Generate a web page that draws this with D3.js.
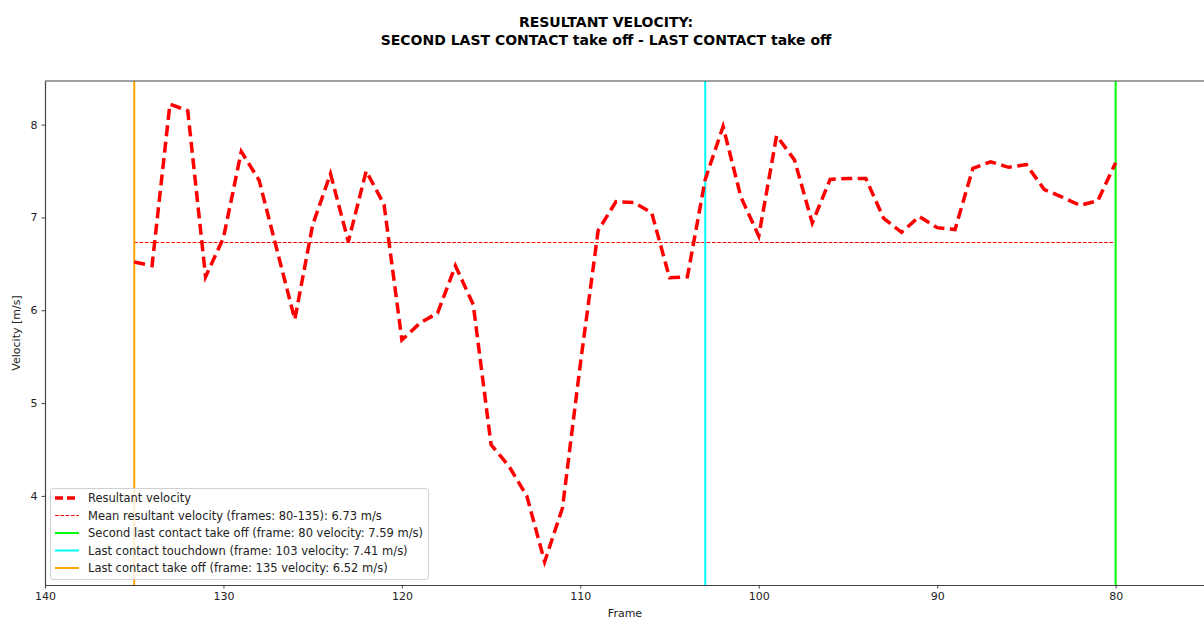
<!DOCTYPE html>
<html>
<head>
<meta charset="utf-8">
<script src="https://cdn.jsdelivr.net/npm/d3@7"></script>
<style>
  html, body { margin: 0; padding: 0; background: #fff; }
  svg { display: block; font-family: "DejaVu Sans", sans-serif; }
</style>
</head>
<body>
<svg id="chart" width="1204" height="619"></svg>
<script>
// Frames (descending) and resultant velocity per frame [m/s]
const frames = [135,134,133,132,131,130,129,128,127,126,125,124,123,122,121,120,119,118,117,116,115,114,113,112,111,110,109,108,107,106,105,104,103,102,101,100,99,98,97,96,95,94,93,92,91,90,89,88,87,86,85,84,83,82,81,80];
const velocity = [6.52,6.48,8.22,8.15,6.36,6.78,7.71,7.40,6.65,5.90,6.92,7.47,6.74,7.50,7.14,5.68,5.86,5.97,6.48,6.06,4.55,4.32,4.00,3.29,3.87,5.42,6.86,7.17,7.16,7.05,6.35,6.36,7.41,7.98,7.22,6.80,7.88,7.62,6.94,7.41,7.42,7.42,6.99,6.84,7.01,6.89,6.87,7.53,7.60,7.54,7.57,7.30,7.22,7.13,7.18,7.59];

const meanVelocity = 6.73;
const meanRange = [80, 135];

// Event markers: frame, label, colour
const events = [
  { frame: 80,  label: "Second last contact take off (frame: 80 velocity: 7.59 m/s)", color: "#00ff00" },
  { frame: 103, label: "Last contact touchdown (frame: 103 velocity: 7.41 m/s)", color: "#00ffff" },
  { frame: 135, label: "Last contact take off (frame: 135 velocity: 6.52 m/s)", color: "#ffa500" }
];

const xTicks = [140, 130, 120, 110, 100, 90, 80];
const yTicks = [4, 5, 6, 7, 8];
const titleLines = ["RESULTANT VELOCITY:", "SECOND LAST CONTACT take off - LAST CONTACT take off"];

const svg = d3.select("#chart");
const m = { left: 45, top: 81, right: 1212, bottom: 585 };

const x = d3.scaleLinear().domain([140, 74.6]).range([m.left, m.right]);
const y = d3.scaleLinear().domain([3.04, 8.47]).range([m.bottom, m.top]);

svg.append("defs").append("clipPath").attr("id", "plotclip")
  .append("rect").attr("x", m.left).attr("y", m.top)
  .attr("width", m.right - m.left).attr("height", m.bottom - m.top);

const plot = svg.append("g").attr("clip-path", "url(#plotclip)");

// Mean line
plot.append("line")
  .attr("x1", x(meanRange[1])).attr("x2", x(meanRange[0]))
  .attr("y1", y(meanVelocity)).attr("y2", y(meanVelocity))
  .attr("stroke", "#ff0000").attr("stroke-width", 1)
  .attr("stroke-dasharray", "3.7,1.6");

// Event vertical lines
events.forEach(e => {
  plot.append("line")
    .attr("x1", x(e.frame)).attr("x2", x(e.frame))
    .attr("y1", m.top).attr("y2", m.bottom)
    .attr("stroke", e.color).attr("stroke-width", 2);
});

// Velocity curve
const line = d3.line().x((d, i) => x(frames[i])).y(d => y(d));
plot.append("path")
  .datum(velocity)
  .attr("d", line)
  .attr("fill", "none")
  .attr("stroke", "#ff0000")
  .attr("stroke-width", 3.5)
  .attr("stroke-dasharray", "11,5.5");

// Axes
const xAxis = svg.append("g").attr("transform", `translate(0,${m.bottom})`)
  .call(d3.axisBottom(x).tickValues(xTicks).tickSize(3.5).tickSizeOuter(0).tickPadding(4).tickFormat(d3.format("d")));
const yAxis = svg.append("g").attr("transform", `translate(${m.left},0)`)
  .call(d3.axisLeft(y).tickValues(yTicks).tickSize(3.5).tickSizeOuter(0).tickPadding(4).tickFormat(d3.format("d")));
[xAxis, yAxis].forEach(a => {
  a.selectAll("text").attr("font-size", 11).attr("fill", "#222").attr("font-family", "DejaVu Sans");
  a.selectAll("line").attr("stroke", "#444");
  a.select(".domain").attr("stroke", "#444").attr("stroke-width", 1.2);
});

// Top spine
svg.append("line").attr("x1", m.left).attr("x2", m.right)
  .attr("y1", m.top).attr("y2", m.top).attr("stroke", "#444").attr("stroke-width", 1.2);

// Axis labels
svg.append("text").attr("x", 625).attr("y", 617).attr("text-anchor", "middle")
  .attr("font-size", 11).attr("fill", "#222").text("Frame");
svg.append("text").attr("transform", "translate(20,333) rotate(-90)")
  .attr("text-anchor", "middle").attr("font-size", 11).attr("fill", "#222").text("Velocity [m/s]");

// Title
titleLines.forEach((t, i) => {
  svg.append("text").attr("x", 606).attr("y", 27 + i * 17.5)
    .attr("text-anchor", "middle").attr("font-size", 14).attr("font-weight", "bold")
    .attr("fill", "#000").text(t);
});

// Legend
const legendItems = [
  { label: "Resultant velocity", color: "#ff0000", width: 3.5, dash: "8,4" },
  { label: "Mean resultant velocity (frames: 80-135): 6.73 m/s", color: "#ff0000", width: 1, dash: "3.7,1.6" },
  ...events.map(e => ({ label: e.label, color: e.color, width: 2, dash: null }))
];
const lg = svg.append("g");
lg.append("rect").attr("x", 50.5).attr("y", 488.5).attr("width", 378).attr("height", 91)
  .attr("rx", 3).attr("fill", "rgba(255,255,255,0.8)").attr("stroke", "#d0d0d0");
legendItems.forEach((d, i) => {
  const cy = 498 + i * 17.5;
  lg.append("line").attr("x1", 55).attr("x2", 79).attr("y1", cy).attr("y2", cy)
    .attr("stroke", d.color).attr("stroke-width", d.width)
    .attr("stroke-dasharray", d.dash);
  lg.append("text").attr("x", 88).attr("y", cy + 4).attr("font-size", 11.5)
    .attr("fill", "#222").text(d.label);
});
</script>
</body>
</html>
